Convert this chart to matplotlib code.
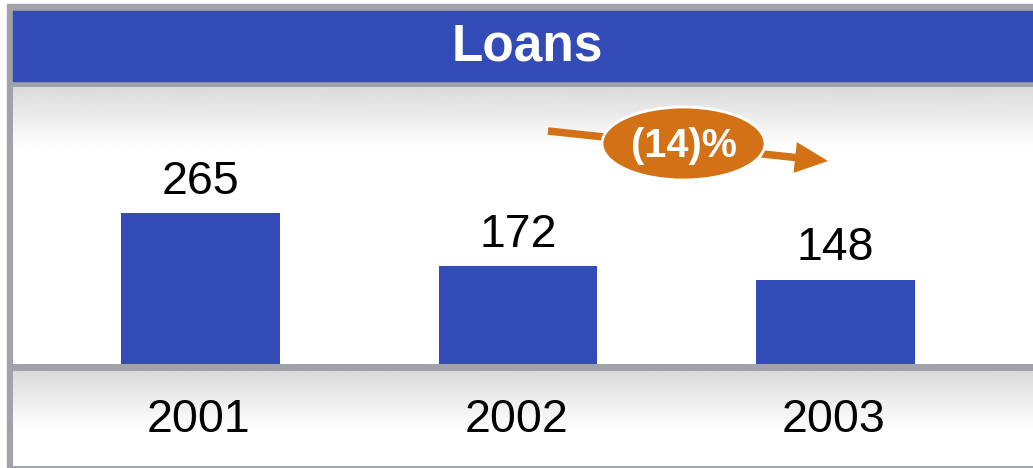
import numpy as np
import matplotlib
matplotlib.use("Agg")
import matplotlib.pyplot as plt
from matplotlib.patches import Rectangle, Ellipse, FancyArrow

years = ["2001", "2002", "2003"]
loans = [265, 172, 148]
change_label = "(14)%"
title = "Loans"

BLUE = "#334bb7"
GREY = "#a2a2aa"
ORANGE = "#d37116"
W, H = 1033, 468

plt.rcParams["font.family"] = ["Liberation Sans", "DejaVu Sans"]

fig = plt.figure(figsize=(W / 100, H / 100), dpi=100)

# full-figure axes in pixel coordinates for frame and backgrounds
bg = fig.add_axes([0, 0, 1, 1])
bg.set_xlim(0, W)
bg.set_ylim(H, 0)
bg.axis("off")

bg.add_patch(Rectangle((7, 4), W - 7, 464, color=GREY, zorder=0))
bg.add_patch(Rectangle((13, 11), W - 13, 70, color=BLUE, zorder=1))
bg.text(527, 47, title, color="white", fontsize=37,
        fontweight="bold", ha="center", va="center", zorder=2)


def gradient(y0, y1, fade):
    n = int(y1 - y0)
    t = np.clip(np.arange(n) / fade, 0, 1)
    v = 0.855 + (1 - 0.855) * t
    img = np.repeat(v[:, None], 2, axis=1)
    bg.imshow(img, cmap="gray", vmin=0, vmax=1, aspect="auto",
              extent=(13, W, y1, y0), zorder=1, interpolation="bilinear")


gradient(87, 364, 60)
gradient(371, 466, 58)
bg.set_xlim(0, W)
bg.set_ylim(H, 0)

# bar axes
ax = fig.add_axes([13 / W, (H - 364) / H, (W - 13) / W, 277 / H])
ax.patch.set_alpha(0)
x = np.arange(len(years))
ax.bar(x, loans, width=0.5, color=BLUE, zorder=3)
ax.set_xlim(-0.5906, 2.622)
ax.set_ylim(0, 487)
ax.axis("off")
for xi, v in zip(x, loans):
    ax.annotate(str(v), (xi, v), xytext=(0, 14), textcoords="offset points",
                ha="center", va="baseline", fontsize=33.5, color="black")

# year labels band
band = fig.add_axes([13 / W, (H - 466) / H, (W - 13) / W, 95 / H])
band.patch.set_alpha(0)
band.set_xlim(ax.get_xlim())
band.set_ylim(0, 1)
band.axis("off")
for xi, yr in zip(x, years):
    band.text(xi - 0.005, 0.36, yr, ha="center", va="baseline",
              fontsize=33.5, color="black")

# change arrow
ov = fig.add_axes([0, 0, 1, 1])
ov.patch.set_alpha(0)
ov.set_xlim(0, W)
ov.set_ylim(H, 0)
ov.axis("off")
ov.add_patch(FancyArrow(548, 131, 280, 30, width=7.5, head_width=31,
                        head_length=33, length_includes_head=True,
                        color=ORANGE, lw=0))
ov.add_patch(Ellipse((683.5, 143.5), 163, 73, facecolor=ORANGE,
                     edgecolor="white", lw=2))
ov.text(683.5, 146, change_label, color="white", fontsize=28.5,
        fontweight="bold", ha="center", va="center")

fig.savefig("out.png", dpi=100)
